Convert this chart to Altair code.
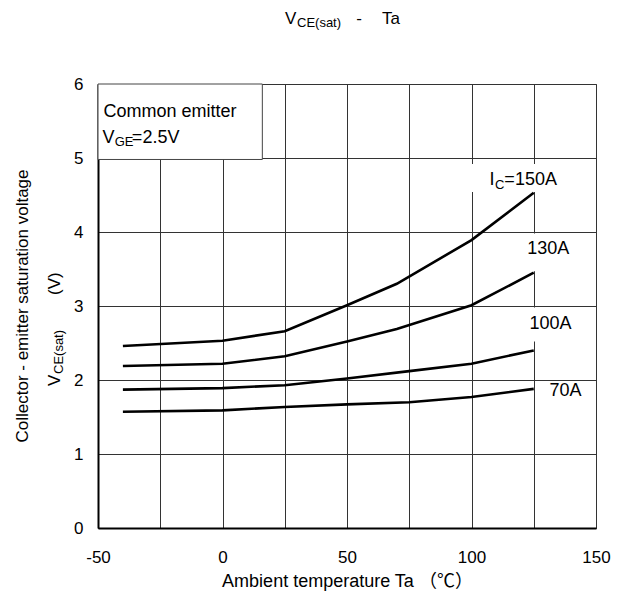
import altair as alt
import pandas as pd

FONT = "Liberation Sans, Arial, Helvetica, sans-serif"
CJK_FONT = "Liberation Sans, Noto Sans CJK JP, sans-serif"

# ---- data ----
temps_hi = [-40, 0, 25, 50, 70, 100, 125]
temps_lo = [-40, 0, 25, 50, 75, 100, 125]
v_150a = [2.46, 2.53, 2.66, 3.01, 3.30, 3.89, 4.53]
v_130a = [2.19, 2.22, 2.32, 2.52, 2.69, 3.01, 3.45]
v_100a = [1.87, 1.89, 1.93, 2.02, 2.12, 2.22, 2.40]
v_70a = [1.57, 1.59, 1.635, 1.67, 1.70, 1.77, 1.88]

x_ticks = [-50, -25, 0, 25, 50, 75, 100, 125, 150]
y_ticks = [0, 0.5, 1, 1.5, 2, 2.5, 3, 3.5, 4, 4.5, 5, 5.5, 6]

# curve labels (data coords, left aligned, alphabetic baseline)
lab_text = ["I", "C", "=150A", "130A", "100A", "70A",
            "Common emitter", "V", "GE", "=2.5V"]
lab_x = [107.2, 109.4, 113.2, 122.4, 123.3, 131.3, -47.8, -48.2, -43.3, -36.4]
lab_y = [4.63, 4.585, 4.63, 3.70, 2.685, 1.79, 5.55, 5.20, 5.16, 5.20]
lab_size = [18, 13, 18, 18, 18, 18, 18, 18, 13, 18]

# white backgrounds behind curve labels
bg_x0 = [99, 118, 120]
bg_x1 = [138, 144, 144]
bg_y0 = [4.54, 3.47, 2.52]
bg_y1 = [4.92, 3.98, 2.98]

# legend box "Common emitter"
box_x0 = [-50]
box_x1 = [16]
box_y0 = [4.98]
box_y1 = [6]

rows = []
for name, xs, vs in [("150A", temps_hi, v_150a), ("130A", temps_hi, v_130a),
                     ("100A", temps_lo, v_100a), ("70A", temps_lo, v_70a)]:
    for t, v in zip(xs, vs):
        rows.append({"Ta": t, "V": v, "Ic": name})
df = pd.DataFrame(rows)

labels_df = pd.DataFrame({"x": lab_x, "y": lab_y, "t": lab_text, "fs": lab_size})
bg_df = pd.DataFrame({"x0": bg_x0, "x1": bg_x1, "y0": bg_y0, "y1": bg_y1})
box_df = pd.DataFrame({"x0": box_x0, "x1": box_x1, "y0": box_y0, "y1": box_y1})

xscale = alt.Scale(domain=[-50, 150], nice=False, zero=False)
yscale = alt.Scale(domain=[0, 6], nice=False, zero=False)

x_axis = alt.Axis(
    values=x_ticks,
    labelExpr="datum.value % 50 === 0 ? '' + datum.value : ''",
    title="Ambient temperature  Ta （℃）",
    grid=True, gridColor="#333", gridWidth=1, gridOpacity=1,
    ticks=False, tickSize=0,
    domain=True, domainColor="black", domainWidth=2,
    labelFont=FONT, labelFontSize=17, labelColor="black", labelPadding=21,
    labelFlush=False, labelOverlap=False,
    titleFont=CJK_FONT, titleFontSize=18, titleFontWeight="normal",
    titleColor="black", titlePadding=7,
)
y_axis = alt.Axis(
    values=y_ticks,
    labelExpr="datum.value % 1 === 0 ? '' + datum.value : ''",
    title=None,
    grid=True, gridColor="#333", gridWidth=1, gridOpacity=1,
    ticks=False, tickSize=0,
    domain=True, domainColor="black", domainWidth=2,
    labelFont=FONT, labelFontSize=17, labelColor="black", labelPadding=15,
    labelFlush=False, labelOverlap=False,
)

bg = alt.Chart(bg_df).mark_rect(fill="white", stroke=None).encode(
    x=alt.X("x0:Q", scale=xscale, axis=x_axis),
    x2="x1:Q",
    y=alt.Y("y0:Q", scale=yscale, axis=y_axis),
    y2="y1:Q",
)

box = alt.Chart(box_df).mark_rect(fill="white", stroke="#444", strokeWidth=1).encode(
    x=alt.X("x0:Q", scale=xscale),
    x2="x1:Q",
    y=alt.Y("y0:Q", scale=yscale),
    y2="y1:Q",
)

lines = alt.Chart(df).mark_line(color="black", strokeWidth=2.6).encode(
    x=alt.X("Ta:Q", scale=xscale),
    y=alt.Y("V:Q", scale=yscale),
    detail="Ic:N",
)

labels = alt.Chart(labels_df).mark_text(
    align="left", baseline="alphabetic", font=FONT, color="black"
).encode(
    x=alt.X("x:Q", scale=xscale),
    y=alt.Y("y:Q", scale=yscale),
    text="t:N",
    size=alt.Size("fs:Q", scale=None, legend=None),
)


def ptext(txt, x, y, size, angle=0, align="left", baseline="alphabetic"):
    kw = dict(text=txt, font=FONT, fontSize=size, color="black",
              align=align, baseline=baseline)
    if angle:
        kw["angle"] = angle
    return alt.Chart(alt.Data(values=[{}])).mark_text(**kw).encode(
        x=alt.value(x), y=alt.value(y)
    )


# chart title V_CE(sat) - Ta (pixel positions relative to plot origin)
title_parts = [
    ptext("V", 187, -60, 17),
    ptext("CE(sat)", 199, -57, 13),
    ptext("-", 261, -60, 17, align="center"),
    ptext("Ta", 284, -60, 17),
]

# y axis title (rotated)
ytitle_parts = [
    ptext("Collector - emitter saturation voltage", -75, 222, 17, angle=270,
          align="center", baseline="middle"),
    ptext("V", -38, 302, 17, angle=270),
    ptext("CE(sat)", -35, 290, 13, angle=270),
    ptext("(V)", -38, 211, 17, angle=270),
]

chart = alt.layer(bg, box, lines, labels, *title_parts, *ytitle_parts).properties(
    width=498,
    height=444,
    autosize=alt.AutoSizeParams(type="none"),
    padding={"left": 90, "top": 76, "right": 21, "bottom": 69},
    background="white",
).configure_view(stroke="#555", strokeWidth=1)

chart.save("out.html", embed_options={"renderer": "svg", "actions": False})
